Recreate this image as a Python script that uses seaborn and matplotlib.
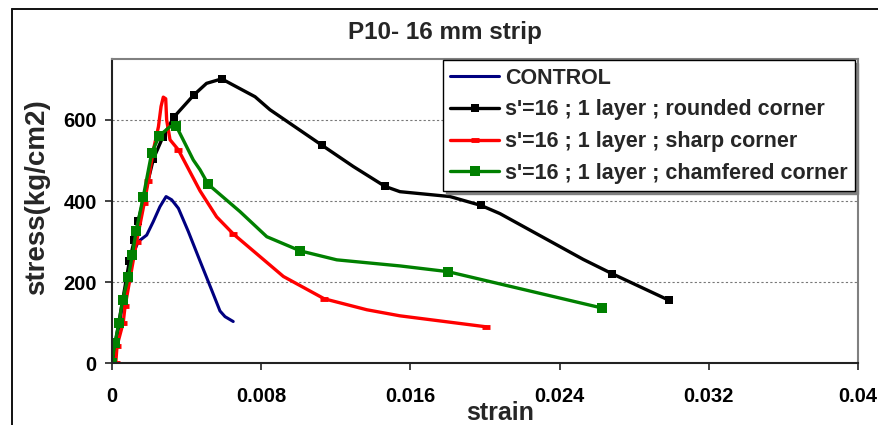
import matplotlib
matplotlib.use("Agg")
import matplotlib.pyplot as plt
import seaborn as sns
from matplotlib.lines import Line2D

# ---- data: strain vs stress (kg/cm2) ----
control_strain = [0, 0.0004, 0.0008, 0.00114, 0.00141, 0.00186, 0.00221, 0.00257, 0.0029,
                  0.0032, 0.00356, 0.00409, 0.00472, 0.00534, 0.00579, 0.00606, 0.0065]
control_stress = [0, 100, 200, 271, 300, 316, 349, 386, 411,
                  403, 382, 325, 252, 181, 129, 115, 103]

rounded_strain = [0, 0.000375, 0.00093, 0.0012, 0.00141, 0.00222, 0.00272, 0.00332, 0.00438,
                  0.00507, 0.00588, 0.00767, 0.00847, 0.01124, 0.01294, 0.01464, 0.01544,
                  0.01812, 0.01979, 0.0208, 0.02527, 0.02681, 0.02988]
rounded_stress = [0, 103, 251, 304, 351, 504, 557, 607, 661,
                  690, 701, 657, 625, 538, 485, 436, 423,
                  411, 389, 369, 256, 221, 155]
rounded_marked = [0, 1, 2, 3, 4, 5, 6, 7, 8, 10, 13, 15, 18, 21, 22]

sharp_strain = [0.0002, 0.00027, 0.0006, 0.0007, 0.00132, 0.00173, 0.00195, 0.00222, 0.00249,
                0.00263, 0.00275, 0.00288, 0.00293, 0.00311, 0.00356, 0.00472, 0.00561,
                0.0065, 0.00919, 0.01138, 0.01366, 0.01544, 0.02005]
sharp_stress = [0, 43, 100, 140, 300, 395, 450, 526, 583,
                633, 656, 652, 600, 551, 526, 425, 361,
                319, 214, 159, 132, 117, 90]
sharp_marked = [0, 1, 2, 3, 4, 5, 6, 14, 17, 19, 22]

chamfered_strain = [0, 0.00016, 0.000375, 0.00057, 0.00087, 0.00109, 0.00129, 0.00168, 0.00213,
                    0.00254, 0.00311, 0.00343, 0.004, 0.00436, 0.00472, 0.00516, 0.00686,
                    0.0083, 0.0101, 0.01205, 0.01544, 0.018, 0.0263]
chamfered_stress = [0, 51, 99, 156, 212, 267, 325, 411, 519,
                    561, 583, 586, 534, 501, 477, 441, 374,
                    312, 277, 255, 240, 226, 136]
chamfered_marked = [0, 1, 2, 3, 4, 5, 6, 7, 8, 9, 11, 15, 18, 21, 22]

series_labels = ["CONTROL",
                 "s'=16 ; 1 layer ; rounded corner",
                 "s'=16 ; 1 layer ; sharp corner",
                 "s'=16 ; 1 layer ; chamfered corner"]

x_ticks = [0, 0.008, 0.016, 0.024, 0.032, 0.04]
x_tick_labels = ["0", "0.008", "0.016", "0.024", "0.032", "0.04"]
y_ticks = [0, 200, 400, 600]

# ---- styling ----
sns.set_theme(style="white")
plt.rcParams["font.family"] = ["Liberation Sans", "DejaVu Sans"]
plt.rcParams["font.weight"] = "bold"

W, H = 879, 425
fig = plt.figure(figsize=(W / 100, H / 100), dpi=100)
fig.patch.set_facecolor("white")

# plot area in pixels: left 112, right 858, top 59, bottom 363
ax = fig.add_axes([112 / W, (H - 363.3) / H, (858 - 112) / W, (363.3 - 59) / H])
ax.set_facecolor("white")

# chart-area frame (left and top edges)
fig.add_artist(Line2D([12 / W, 12 / W], [0, 1 - 9 / H], transform=fig.transFigure,
                      color="#111111", lw=1.4))
fig.add_artist(Line2D([12 / W, 1], [1 - 9 / H, 1 - 9 / H], transform=fig.transFigure,
                      color="#111111", lw=1.4))

common = dict(ax=ax, sort=False, estimator=None, solid_joinstyle="round",
              solid_capstyle="round")

sns.lineplot(x=control_strain, y=control_stress, color="#000080", lw=2.2,
             label=series_labels[0], **common)
sns.lineplot(x=rounded_strain, y=rounded_stress, color="black", lw=2.4,
             marker="s", markersize=5.5, markevery=rounded_marked,
             markeredgewidth=0, markerfacecolor="black",
             label=series_labels[1], **common)
sns.lineplot(x=sharp_strain, y=sharp_stress, color="#FF0000", lw=2.4,
             marker="_", markersize=6, markevery=sharp_marked,
             markeredgewidth=3.5, markeredgecolor="#FF0000",
             label=series_labels[2], **common)
sns.lineplot(x=chamfered_strain, y=chamfered_stress, color="#008000", lw=2.4,
             marker="s", markersize=6.5, markevery=chamfered_marked,
             markeredgewidth=0, markerfacecolor="#008000",
             label=series_labels[3], **common)

ax.set_xlim(0, 0.04)
ax.set_ylim(0, 750)
ax.set_xticks(x_ticks)
ax.set_xticklabels(x_tick_labels)
ax.set_yticks(y_ticks)

ax.yaxis.grid(True, color="#777777", lw=0.8, linestyle=(0, (2, 2)))
ax.xaxis.grid(False)

for side in ("left", "bottom"):
    ax.spines[side].set_color("#222222")
    ax.spines[side].set_linewidth(1.5)
for side in ("top", "right"):
    ax.spines[side].set_color("#808080")
    ax.spines[side].set_linewidth(1.5)

ax.tick_params(axis="both", direction="out", length=5, width=1.2, color="#222222",
               labelsize=14.5, labelcolor="black")
ax.tick_params(axis="x", pad=12, bottom=True)
ax.tick_params(axis="y", pad=6, left=True)
for lab in ax.get_xticklabels() + ax.get_yticklabels():
    lab.set_fontweight("bold")

ax.set_xlabel("strain", fontsize=18, fontweight="bold")
ax.xaxis.set_label_coords((500 - 112) / 746, -(420 - 363.3) / 304.3)
ax.xaxis.label.set_va("baseline")
ax.set_ylabel("stress(kg/cm2)", fontsize=20, fontweight="bold")
ax.yaxis.set_label_coords(-(112 - 50) / 746, (363.3 - 197) / 304.3)

fig.text(445 / W, 1 - 33 / H, "P10- 16 mm strip", ha="center", va="center",
         fontsize=17.5, fontweight="bold")

leg = ax.legend(loc="upper right", bbox_to_anchor=(855 / W, 1 - 60 / H),
                bbox_transform=fig.transFigure, borderaxespad=0, frameon=True,
                fancybox=False, framealpha=1, edgecolor="black", fontsize=15.5,
                handlelength=2.25, handletextpad=0.28, labelspacing=0.5,
                borderpad=0.35, numpoints=1,
                shadow={"ox": 2, "oy": -2, "color": "#808080", "alpha": 1})
leg.get_frame().set_linewidth(1.0)
for t in leg.get_texts():
    t.set_fontweight("bold")

fig.savefig("out.png", dpi=100, facecolor="white")
